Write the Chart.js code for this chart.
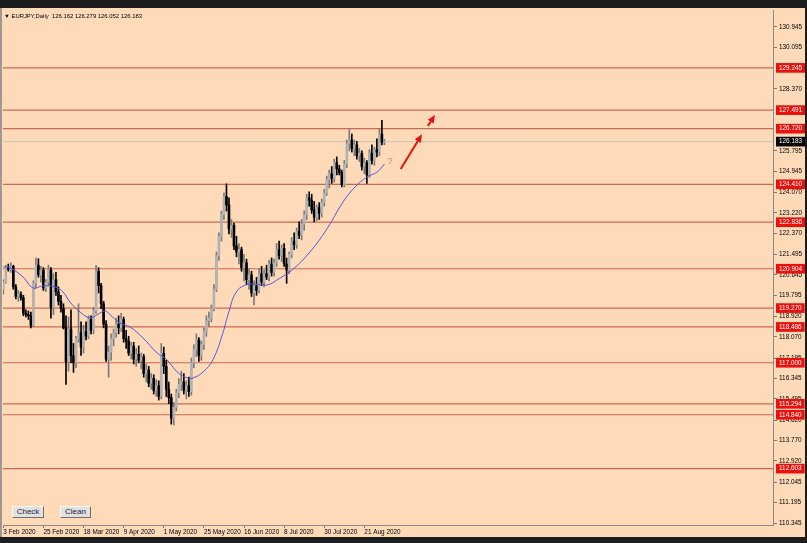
<!DOCTYPE html>
<html>
<head>
<meta charset="utf-8">
<script src="https://cdn.jsdelivr.net/npm/chart.js@4.4.0/dist/chart.umd.min.js"></script>
<style>
  html, body { margin: 0; padding: 0; width: 807px; height: 543px; overflow: hidden; background: #1c1c1c; }
  #frame { position: absolute; left: 0; top: 8px; width: 805px; height: 529px; background: #ffdab9; }
  #frame canvas { position: absolute; left: 0; top: 0; }
  #edge { position: absolute; left: 0; top: 0; width: 2px; height: 529px; background: #a09890; }
  #title { position: absolute; left: 4px; top: 5px; font: 5.9px 'Liberation Sans', Arial, sans-serif; color: #000; white-space: pre; }
  .btn { position: absolute; top: 498px; height: 12px; box-sizing: border-box; background: #e4e1dc; border: 1px solid #f8f8f8;
         border-right-color: #707070; border-bottom-color: #707070; font: 8px 'Liberation Sans', Arial, sans-serif; color: #1a2050;
         text-align: center; line-height: 10px; padding: 0; }
</style>
</head>
<body>
<div id="frame">
  <canvas id="chart" width="805" height="529"></canvas>
  <div id="edge"></div>
  <div id="title">&#9660; EURJPY,Daily  126.162 126.279 126.052 126.183</div>
  <button class="btn" style="left:12px;width:32px">Check</button>
  <button class="btn" style="left:60px;width:31px">Clean</button>
</div>
<script>
// time axis labels (one every 16 daily bars)
const dateIdx = [0, 16, 32, 48, 64, 80, 96, 112, 128, 144];
const dateLabels = ['3 Feb 2020', '25 Feb 2020', '18 Mar 2020', '9 Apr 2020', '1 May 2020',
                    '25 May 2020', '16 Jun 2020', '8 Jul 2020', '30 Jul 2020', '21 Aug 2020'];

// EURJPY daily OHLC, bar 0 = 3 Feb 2020
const open = [
  120.05,120.35,120.95,120.88,121.00,120.15,119.75,119.85,119.70,119.05,
  119.00,118.95,118.55,120.30,121.05,120.65,120.85,120.10,120.35,120.85,
  119.30,120.45,119.95,119.55,119.25,118.45,117.05,118.40,117.30,117.00,
  118.00,118.25,117.65,118.30,118.10,118.80,118.35,119.15,120.80,120.20,
  119.45,118.60,117.15,117.45,118.00,118.25,118.60,118.45,118.80,118.00,
  117.90,117.40,117.70,117.15,117.35,117.10,117.25,116.55,116.70,116.15,
  116.35,115.85,116.05,115.60,117.40,116.85,115.90,115.55,114.70,115.15,
  115.75,116.10,116.20,115.85,116.05,115.80,117.00,117.55,117.95,117.30,
  117.75,118.30,118.75,118.85,119.25,120.05,121.45,122.25,123.15,123.90,
  123.55,122.55,122.70,121.85,121.60,121.70,120.95,121.15,120.45,120.65,
  119.90,120.20,120.00,120.70,120.35,120.70,120.55,121.10,120.75,121.15,
  121.70,121.45,121.75,121.10,120.85,121.50,122.05,121.90,122.45,122.30,
  122.75,123.15,123.85,123.75,123.35,123.05,123.45,123.20,123.65,124.05,
  124.60,124.85,124.65,125.30,125.05,124.90,124.40,125.25,126.10,126.25,
  125.90,126.05,125.60,125.70,125.15,125.30,124.80,125.70,125.40,125.85,
  125.75,126.50,126.162
];
const high = [
  120.45,121.05,121.10,121.15,121.05,120.25,120.00,119.95,119.80,119.20,
  119.15,119.10,120.40,121.35,121.32,121.00,120.95,120.45,121.05,120.95,
  120.70,120.75,120.15,119.80,119.45,118.95,118.90,119.20,117.80,118.10,
  119.45,118.70,118.55,118.70,118.95,118.95,119.30,121.05,120.95,120.30,
  119.55,118.75,117.70,118.20,118.40,118.85,118.95,119.05,118.90,118.35,
  118.10,117.85,117.85,117.60,117.70,117.40,117.35,116.95,116.85,116.55,
  116.50,116.30,116.25,117.80,117.65,117.10,116.20,115.70,115.35,115.90,
  116.35,116.65,116.55,116.25,116.40,117.20,117.75,118.20,118.05,117.90,
  118.45,118.95,119.10,119.40,120.25,121.60,122.40,123.30,124.05,124.43,
  123.85,122.95,122.80,122.25,121.95,121.80,121.50,121.30,120.90,120.80,
  120.40,120.55,120.90,121.00,120.85,121.05,121.25,121.35,121.30,121.95,
  122.05,121.90,121.95,121.35,121.60,122.20,122.40,122.60,122.85,122.95,
  123.30,124.00,124.10,124.00,123.70,123.55,123.65,123.80,124.20,124.75,
  125.00,125.15,125.45,125.55,125.20,125.00,125.40,126.25,126.70,126.50,
  126.25,126.20,125.90,125.80,125.50,125.40,125.85,126.05,125.95,126.30,
  126.70,127.07,126.279
];
const low = [
  119.85,120.30,120.80,120.75,120.05,119.65,119.55,119.60,118.95,118.90,
  118.80,118.45,118.50,120.10,120.55,120.35,120.00,119.95,120.20,118.85,
  119.00,119.80,119.40,119.10,118.40,116.10,116.65,117.00,116.60,116.80,
  117.85,117.30,117.40,117.95,118.00,118.20,118.20,119.05,119.90,119.25,
  118.45,117.05,116.40,117.10,117.70,118.05,118.20,118.30,117.85,117.60,
  117.30,117.15,116.95,116.85,117.00,116.75,116.40,116.20,116.00,115.90,
  115.70,115.60,115.45,115.50,116.55,115.60,115.30,114.45,114.42,115.00,
  115.55,115.85,115.70,115.50,115.60,115.65,116.80,117.25,117.05,117.10,
  117.55,118.10,118.50,118.70,119.15,119.95,121.25,122.05,122.95,123.30,
  122.35,122.20,121.70,121.40,121.10,120.80,120.40,120.25,120.05,119.75,
  119.40,119.80,119.90,120.20,120.15,120.45,120.40,120.60,120.60,121.00,
  121.30,121.20,121.00,120.30,120.70,121.35,121.70,121.75,122.15,122.10,
  122.50,122.95,123.50,123.20,122.85,122.90,122.95,123.05,123.50,123.95,
  124.25,124.45,124.50,124.80,124.80,124.30,124.30,125.10,125.80,125.75,
  125.60,125.45,125.35,125.00,124.85,124.45,124.70,125.25,125.20,125.55,
  125.60,126.05,126.052
];
const close = [
  120.35,120.95,120.88,121.00,120.15,119.75,119.85,119.70,119.05,119.00,
  118.95,118.55,120.30,121.05,120.65,120.85,120.10,120.35,120.85,119.30,
  120.45,119.95,119.55,119.25,118.45,117.05,118.40,117.30,117.00,118.00,
  118.25,117.65,118.30,118.10,118.80,118.35,119.15,120.80,120.20,119.45,
  118.60,117.15,117.45,118.00,118.25,118.60,118.45,118.80,118.00,117.90,
  117.40,117.70,117.15,117.35,117.10,117.25,116.55,116.70,116.15,116.35,
  115.85,116.05,115.60,117.40,116.85,115.90,115.55,114.70,115.15,115.75,
  116.10,116.20,115.85,116.05,115.80,117.00,117.55,117.95,117.30,117.75,
  118.30,118.75,118.85,119.25,120.05,121.45,122.25,123.15,123.90,123.55,
  122.55,122.70,121.85,121.60,121.70,120.95,121.15,120.45,120.65,119.90,
  120.20,120.00,120.70,120.35,120.70,120.55,121.10,120.75,121.15,121.70,
  121.45,121.75,121.10,120.85,121.50,122.05,121.90,122.45,122.30,122.75,
  123.15,123.85,123.75,123.35,123.05,123.45,123.20,123.65,124.05,124.60,
  124.85,124.65,125.30,125.05,124.90,124.40,125.25,126.10,126.25,125.90,
  126.05,125.60,125.70,125.15,125.30,124.80,125.70,125.40,125.85,125.75,
  126.50,126.16,126.183
];

// moving average (bar position, price)
const maBar = [0, 2.7, 7.9, 11.8, 15.8, 20.6, 23.8, 26.6, 30.6, 34.6, 37.4, 40.6, 42.6, 46.5, 50.5,
               55.7, 61.3, 65.3, 69.3, 73.3, 75.7, 79.7, 83.6, 87.6, 89.6, 93.2, 98.4, 105.2, 110.4,
               115.2, 122.3, 129.1, 135.5, 140.3, 145.1, 149.1, 152];
const maVal = [120.98, 120.94, 120.56, 120.11, 120.19, 120.15, 119.94, 119.52, 119.11, 118.86, 118.99,
               119.15, 118.99, 118.65, 118.49, 118.03, 117.41, 117.12, 116.62, 116.37, 116.37, 116.62,
               117.12, 118.24, 118.99, 119.98, 120.27, 120.23, 120.52, 120.85, 121.60, 122.56, 123.68,
               124.30, 124.72, 124.92, 125.25];

// horizontal levels and price scale
const levels = [129.245, 127.491, 126.720, 124.410, 122.836, 120.904, 119.270, 118.486, 117.000, 115.294, 114.840, 112.603];
const lastPrice = 126.183;
const priceTicks = [130.945, 130.095, 128.370, 125.795, 124.945, 124.070, 123.220, 122.370, 121.495, 120.645,
                    119.795, 118.920, 118.070, 117.195, 116.345, 115.495, 114.620, 113.770, 112.920, 112.045,
                    111.195, 110.345];

// drawn arrows and the question mark (bar position, price)
const arrowFrom = [[158.5, 125.05], [169.3, 126.83]];
const arrowTo = [[167.0, 126.49], [172.2, 127.29]];
const questionAt = [154.2, 125.34];

const X_MIN = -0.12, X_MAX = 306.98;
const Y_MIN = 110.262, Y_MAX = 131.649;

const isLevel = v => levels.some(l => Math.abs(l - v) < 1e-6);
const isLast = v => Math.abs(v - lastPrice) < 1e-6;

const bull = close.map((c, i) => c >= open[i]);
const datasets = [];

levels.forEach(l => {
    datasets.push({
        type: 'line',
        data: [{x: X_MIN, y: l}, {x: X_MAX, y: l}],
        borderColor: '#c96a55',
        borderWidth: 1.2,
        pointRadius: 0,
        order: 10
    });
});

datasets.push({
    type: 'line',
    data: [{x: X_MIN, y: lastPrice}, {x: X_MAX, y: lastPrice}],
    borderColor: '#c9c2bb',
    borderWidth: 1,
    pointRadius: 0,
    order: 9
});

// wicks
datasets.push({
    type: 'bar',
    data: high.map((h, i) => ({x: i, y: [low[i], h]})),
    backgroundColor: bull.map(b => b ? '#7a7a7a' : '#000000'),
    barThickness: 1,
    grouped: false,
    order: 6
});

// bodies
datasets.push({
    type: 'bar',
    data: open.map((o, i) => ({x: i, y: [o, close[i]]})),
    backgroundColor: bull.map(b => b ? '#b2b2b2' : '#000000'),
    borderWidth: 0,
    barThickness: 2,
    minBarLength: 1,
    grouped: false,
    order: 5
});

datasets.push({
    type: 'line',
    data: maBar.map((b, i) => ({x: b, y: maVal[i]})),
    borderColor: '#5a55d6',
    borderWidth: 1,
    pointRadius: 0,
    tension: 0.4,
    order: 3
});

const markup = {
    id: 'markup',
    afterDatasetsDraw(chart) {
        const {ctx, scales: {x, y}} = chart;
        ctx.save();
        ctx.strokeStyle = '#e3120f';
        ctx.fillStyle = '#e3120f';
        ctx.lineWidth = 2;
        arrowFrom.forEach((f, i) => {
            const x1 = x.getPixelForValue(f[0]), y1 = y.getPixelForValue(f[1]);
            const x2 = x.getPixelForValue(arrowTo[i][0]), y2 = y.getPixelForValue(arrowTo[i][1]);
            const ang = Math.atan2(y2 - y1, x2 - x1);
            const hl = 8, hw = 3.5;
            const bx = x2 - hl * Math.cos(ang), by = y2 - hl * Math.sin(ang);
            ctx.beginPath();
            ctx.moveTo(x1, y1);
            ctx.lineTo(bx, by);
            ctx.stroke();
            ctx.beginPath();
            ctx.moveTo(x2, y2);
            ctx.lineTo(bx + hw * Math.sin(ang), by - hw * Math.cos(ang));
            ctx.lineTo(bx - hw * Math.sin(ang), by + hw * Math.cos(ang));
            ctx.closePath();
            ctx.fill();
        });
        ctx.fillStyle = '#e2765f';
        ctx.font = '9px "Liberation Sans", Arial, sans-serif';
        ctx.textAlign = 'center';
        ctx.textBaseline = 'middle';
        ctx.fillText('?', x.getPixelForValue(questionAt[0]), y.getPixelForValue(questionAt[1]));
        ctx.restore();
    }
};

const tickFont = {family: "'Liberation Sans', Arial, sans-serif", size: 6.4};

new Chart(document.getElementById('chart'), {
    type: 'bar',
    data: {datasets},
    options: {
        responsive: false,
        animation: false,
        devicePixelRatio: 1,
        layout: {padding: {left: 3, top: 2, right: 0, bottom: 0}},
        plugins: {legend: {display: false}, tooltip: {enabled: false}},
        scales: {
            x: {
                type: 'linear',
                min: X_MIN,
                max: X_MAX,
                offset: false,
                afterBuildTicks: s => { s.ticks = dateIdx.map(v => ({value: v})); },
                afterFit: s => { s.height = 12; s.paddingLeft = 0; s.paddingRight = 0; },
                grid: {drawOnChartArea: false, tickLength: 3, color: '#7c7c7c', offset: false},
                border: {color: '#8a8a8a'},
                ticks: {
                    autoSkip: false,
                    maxRotation: 0,
                    align: 'start',
                    padding: 0,
                    color: '#000',
                    font: tickFont,
                    callback: (v, i) => dateLabels[i]
                }
            },
            y: {
                type: 'linear',
                position: 'right',
                min: Y_MIN,
                max: Y_MAX,
                afterBuildTicks: s => {
                    s.ticks = priceTicks.concat(levels, [lastPrice]).map(v => ({value: v}));
                },
                afterFit: s => { s.width = 32; s.paddingTop = 0; s.paddingBottom = 0; },
                grid: {
                    drawOnChartArea: false,
                    tickLength: 4,
                    color: c => (c.tick && (isLevel(c.tick.value) || isLast(c.tick.value))) ? 'rgba(0,0,0,0)' : '#7c7c7c'
                },
                border: {color: '#8a8a8a'},
                ticks: {
                    autoSkip: false,
                    padding: 2,
                    font: tickFont,
                    color: c => (isLevel(c.tick.value) || isLast(c.tick.value)) ? '#ffffff' : '#000000',
                    showLabelBackdrop: c => isLevel(c.tick.value) || isLast(c.tick.value),
                    backdropColor: c => isLast(c.tick.value) ? '#000000' : '#e8110e',
                    backdropPadding: {top: 1, bottom: 1, left: 3, right: 3},
                    callback: v => v.toFixed(3)
                }
            }
        }
    },
    plugins: [markup]
});
</script>
</body>
</html>
